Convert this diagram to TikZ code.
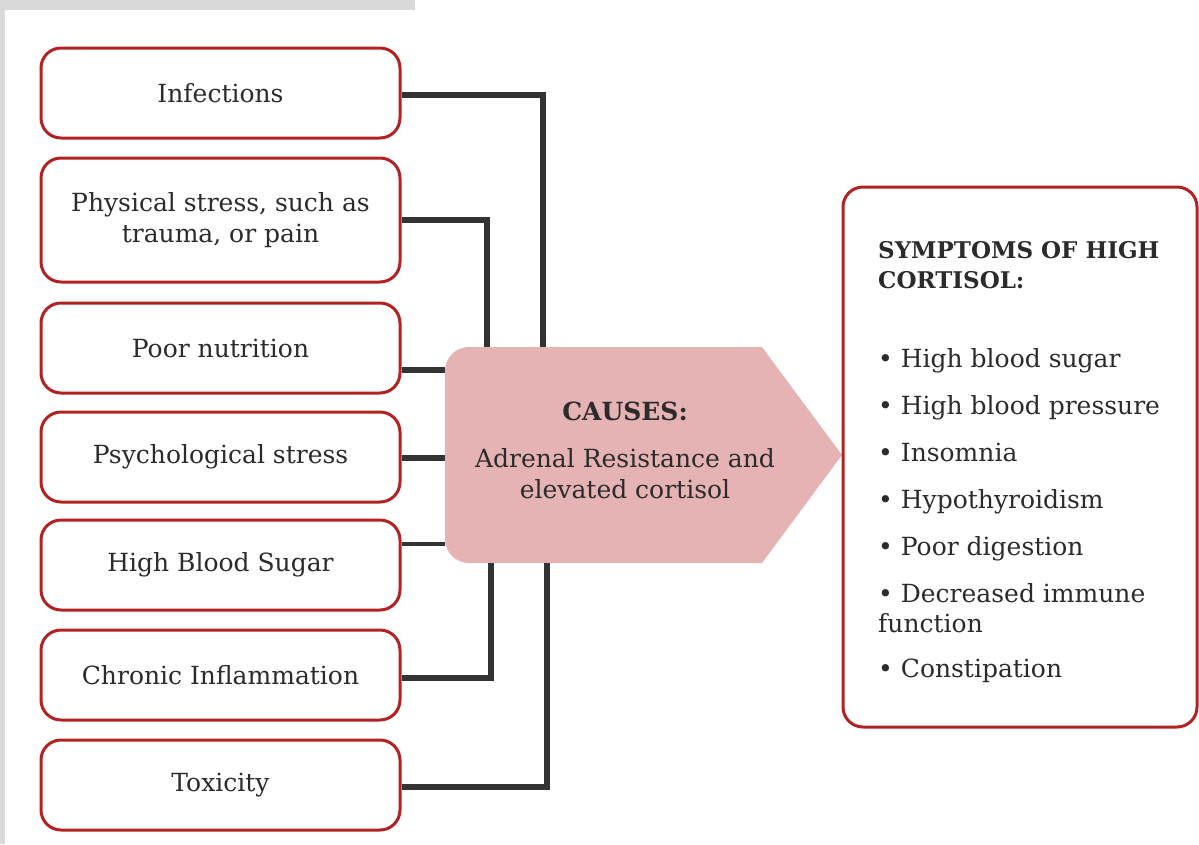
\documentclass[tikz,border=0pt]{standalone}
\usepackage{fontspec}
\setmainfont{DejaVu Serif}
\definecolor{boxred}{HTML}{B22222}
\definecolor{causefill}{HTML}{E5B3B3}
\definecolor{txt}{HTML}{2B2B2B}
\definecolor{linec}{HTML}{333333}
\definecolor{bargray}{HTML}{D9D9D9}
\begin{document}
\begin{tikzpicture}[x=1pt,y=-1pt,
  causebox/.style={draw=boxred, line width=3pt, rounded corners=20pt, fill=white,
    minimum width=359pt, minimum height=90pt, inner sep=0pt, align=center,
    text=txt, font=\fontsize{25}{31}\selectfont},
  conn/.style={draw=linec, line width=5.5pt},
  symtxt/.style={anchor=base west, inner sep=0pt, text=txt, font=\fontsize{25}{31}\selectfont},
  symhead/.style={symtxt, font=\fontsize{23}{30}\selectfont\bfseries}]
\useasboundingbox (0,0) rectangle (1199,844);
\fill[bargray] (0,0) rectangle (415,10);
\fill[bargray] (0,0) rectangle (5,844);

% pentagon
\node[minimum width=397pt, minimum height=216pt, inner sep=0pt] (pent) at (643.5,455) {};
\fill[causefill] (842,455) -- (762,347) -- (469,347)
  .. controls (455.7,347) and (445,357.7) .. (445,371) -- (445,539)
  .. controls (445,552.3) and (455.7,563) .. (469,563) -- (762,563) -- cycle;
\node[align=center, text=txt, font=\fontsize{25}{31}\selectfont, inner sep=0pt] (causes) at (625,450)
  {\textbf{CAUSES:}\\[16pt]Adrenal Resistance and\\elevated cortisol};

% left boxes
\node[causebox] (b1) at (220.5,93) {Infections};
\node[causebox, minimum height=124pt] (b2) at (220.5,220) {Physical stress, such as\\trauma, or pain};
\node[causebox] (b3) at (220.5,348) {Poor nutrition};
\node[causebox] (b4) at (220.5,457) {Psychological stress};
\node[causebox] (b5) at (220.5,565) {High Blood Sugar};
\node[causebox] (b6) at (220.5,675) {Chronic Inflammation};
\node[causebox] (b7) at (220.5,785) {Toxicity};

% connectors
\draw[conn] (b1.east |- 0,95) -| (pent.north -| 543,0);
\draw[conn] (b2.east |- 0,220) -| (pent.north -| 487,0);
\draw[conn, line width=6.5pt] (b3.east |- 0,370) -- (pent.west |- 0,370);
\draw[conn] (b4.east |- 0,458) -- (pent.west |- 0,458);
\draw[conn, line width=4pt] (b5.east |- 0,544) -- (pent.west |- 0,544);
\draw[conn] (b6.east |- 0,678) -| (pent.south -| 491,0);
\draw[conn] (b7.east |- 0,787) -| (pent.south -| 547,0);

% symptoms box
\node[draw=boxred, line width=3pt, rounded corners=20pt, minimum width=354pt, minimum height=540pt, inner sep=0pt] (sym) at (1020,457) {};
\node[symhead] (h1) at (878,258) {SYMPTOMS OF HIGH};
\node[symhead] (h2) at (878,288) {CORTISOL:};
\node[symtxt] (s1) at (878,367) {\textbullet\ High blood sugar};
\node[symtxt] (s2) at (878,414) {\textbullet\ High blood pressure};
\node[symtxt] (s3) at (878,461) {\textbullet\ Insomnia};
\node[symtxt] (s4) at (878,508) {\textbullet\ Hypothyroidism};
\node[symtxt] (s5) at (878,555) {\textbullet\ Poor digestion};
\node[symtxt] (s6) at (878,602) {\textbullet\ Decreased immune};
\node[symtxt] (s6b) at (878,632) {function};
\node[symtxt] (s7) at (878,677) {\textbullet\ Constipation};
\end{tikzpicture}
\end{document}
